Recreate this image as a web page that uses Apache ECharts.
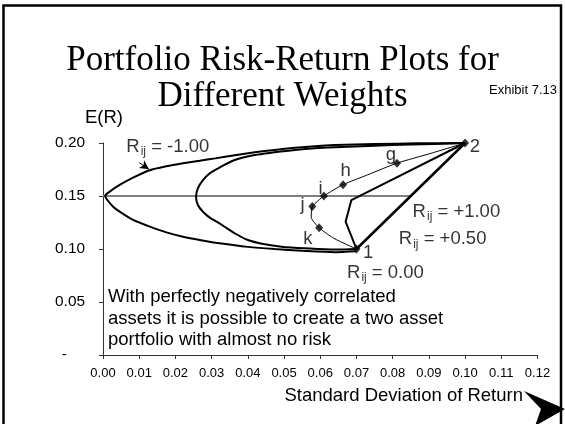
<!DOCTYPE html>
<html><head><meta charset="utf-8">
<script src="https://cdn.jsdelivr.net/npm/echarts@6/dist/echarts.min.js"></script>
<style>html,body{margin:0;padding:0;background:#fff}#c{width:565px;height:424px}</style>
</head><body><div id="c"></div>
<script>
// ---- data: [std dev, expected return] ----
const yTickLabels = ['-', '0.05', '0.10', '0.15', '0.20'];
const hLine015 = [[0, 0.15], [0.085, 0.15]];
const rNeg100 = [[0.100,0.200],[0.087,0.1997],[0.075,0.199],[0.064,0.198],[0.0585,0.197],[0.053,0.1955],[0.0474,0.1935],[0.0419,0.1912],[0.0364,0.1885],[0.031,0.1855],[0.0267,0.1832],[0.0221,0.1808],[0.0175,0.1780],[0.0129,0.1743],[0.0083,0.1673],[0.0046,0.1604],[0.0012,0.1525],[0.0006,0.1500],[0.0012,0.1462],[0.0028,0.1399],[0.0046,0.1352],[0.0083,0.1274],[0.0129,0.1211],[0.0175,0.1157],[0.0221,0.1116],[0.0267,0.1085],[0.0322,0.1054],[0.040,0.1020],[0.0474,0.0999],[0.055,0.0983],[0.064,0.0970],[0.070,0.0978]];
const rNeg050 = [[0.100,0.200],[0.085,0.1985],[0.075,0.1975],[0.064,0.196],[0.0585,0.195],[0.053,0.1934],[0.0474,0.1912],[0.0419,0.1887],[0.0364,0.1840],[0.0315,0.1757],[0.0295,0.1714],[0.0276,0.1650],[0.0262,0.1572],[0.0257,0.1493],[0.0262,0.1415],[0.0276,0.1352],[0.0295,0.1296],[0.0315,0.1255],[0.0336,0.1210],[0.0364,0.1148],[0.040,0.1085],[0.0447,0.1044],[0.0493,0.1022],[0.0557,0.1007],[0.064,0.0995],[0.070,0.100]];
const rZero = [[0.100,0.200],[0.0903,0.190],[0.0812,0.181],[0.0731,0.170],[0.0663,0.1607],[0.061,0.150],[0.0578,0.140],[0.0575,0.130],[0.0597,0.120],[0.0638,0.110],[0.070,0.100]];
const rZeroMarked = [[0.100,0.200],[0.0812,0.181],[0.0663,0.1607],[0.061,0.150],[0.0578,0.140],[0.0597,0.120],[0.070,0.100]];
const rPos050 = [[0.100,0.200],[0.0686,0.1462],[0.067,0.1258],[0.070,0.100]];
const rPos100 = [[0.100,0.200],[0.070,0.100]];
const pointNames = ['f','2','g','h','i','j','k','1'];
const pointNamePos = [[0.0994,0.2189],[0.1027,0.1965],[0.0795,0.1892],[0.0670,0.1739],[0.0601,0.1563],[0.0551,0.1415],[0.0566,0.1092],[0.0732,0.0959]];
const corrValues = ['-1.00','-0.50','+1.00','+0.50','0.00'];
const corrPos = [[0.0179,0.1962],[0.0596,0.2189],[0.0976,0.1352],[0.0938,0.1092],[0.0780,0.0776]];
const arrowFromTo = [[0.0100,0.1815],[0.0127,0.1752]];
const noteLines = ['With perfectly negatively correlated','assets it is possible to create a two asset','portfolio with almost no risk'];

const SANS = '"Liberation Sans", Arial, sans-serif';
const chart = echarts.init(document.getElementById('c'), null, {renderer:'canvas'});
const black = '#000';
function lineSeries(data, width, smooth, z) {
  return {type:'line', data, symbol:'none', smooth, silent:true, z,
    lineStyle:{color:black, width}, emphasis:{disabled:true}};
}
const neg100 = lineSeries(rNeg100, 2, 0.25, 3);
neg100.markLine = {silent:true, symbol:['none','arrow'], symbolSize:[7,9],
  lineStyle:{color:black, width:1, type:'solid'}, label:{show:false},
  data:[[{coord:arrowFromTo[0]},{coord:arrowFromTo[1]}]]};

chart.setOption({
  animation:false,
  title:{text:'Portfolio Risk-Return Plots for\nDifferent Weights', left:'center', top:38,
    textStyle:{fontFamily:'"Liberation Serif", "Times New Roman", serif', fontSize:35, fontWeight:'normal', color:black, lineHeight:36}},
  grid:{left:103, top:143, width:434.5, height:212},
  xAxis:{type:'value', min:0, max:0.12, interval:0.01,
    axisLine:{show:true, lineStyle:{color:'#333', width:1}},
    axisTick:{show:true, inside:false, length:4, lineStyle:{color:'#333'}},
    splitLine:{show:false},
    axisLabel:{color:black, fontSize:13, fontFamily:SANS, margin:12, formatter:v=>v.toFixed(2)}},
  yAxis:{type:'value', min:0, max:0.20, interval:0.05,
    axisLine:{show:true, lineStyle:{color:'#333', width:1}},
    axisTick:{show:true, inside:false, length:4, lineStyle:{color:'#333'}},
    splitLine:{show:false},
    axisLabel:{color:black, fontSize:15.4, fontFamily:SANS, margin:18,
      formatter:v=>{const i=Math.round(v/0.05); return i===0 ? '{d|'+yTickLabels[0]+'}' : yTickLabels[i];},
      rich:{d:{fontSize:15.4, fontFamily:SANS, color:black, padding:[0,18,0,0]}}}},
  series:[
    {type:'line', data:hLine015, symbol:'none', silent:true, z:1, lineStyle:{color:'#808080', width:2}},
    neg100,
    lineSeries(rNeg050, 2, 0.3, 3),
    lineSeries(rZero, 1, 0.2, 3),
    {type:'scatter', data:rZeroMarked, symbol:'diamond', symbolSize:[8,9], silent:true, z:5,
      itemStyle:{color:black}},
    lineSeries(rPos050, 2, false, 3),
    lineSeries(rPos100, 2.5, false, 3),
    {type:'scatter', silent:true, z:6, symbolSize:1, itemStyle:{color:'rgba(0,0,0,0)'},
      data:pointNamePos.map((p,i)=>({value:p, name:pointNames[i]})),
      label:{show:true, position:'inside', formatter:p=>p.name, color:black, fontSize:18.5, fontFamily:SANS}},
    {type:'scatter', silent:true, z:6, symbolSize:1, itemStyle:{color:'rgba(0,0,0,0)'},
      data:corrPos.map((p,i)=>({value:p, name:corrValues[i]})),
      label:{show:true, position:'inside', color:black,
        formatter:p=>'{r|R}{s|ij}{r| = '+p.name+'}',
        rich:{r:{fontSize:18.5, fontFamily:SANS, color:black, lineHeight:22},
              s:{fontSize:12, fontFamily:SANS, color:black, padding:[10,0,0,1]}}}}
  ],
  graphic:[
    {type:'rect', shape:{x:3.5, y:5.5, width:557.5, height:440}, style:{fill:'none', stroke:black, lineWidth:2.5}, silent:true},
    {type:'text', style:{text:'E(R)', x:104, y:118, align:'center', verticalAlign:'middle', fontSize:18.5, fontFamily:SANS, fill:black}},
    {type:'text', style:{text:'Exhibit 7.13', x:557, y:90, align:'right', verticalAlign:'middle', fontSize:13, fontFamily:SANS, fill:black}},
    {type:'text', style:{text:'Standard Deviation of Return', x:523, y:396, align:'right', verticalAlign:'middle', fontSize:18.5, fontFamily:SANS, fill:black}},
    {type:'text', style:{text:noteLines.join('\n'), x:108, y:286, align:'left', verticalAlign:'top', fontSize:18.5, lineHeight:21.7, fontFamily:SANS, fill:black}},
    {type:'polygon', shape:{points:[[524,391],[565,409],[535,426],[541,409]]}, style:{fill:black}, silent:true}
  ]
});
</script></body></html>
